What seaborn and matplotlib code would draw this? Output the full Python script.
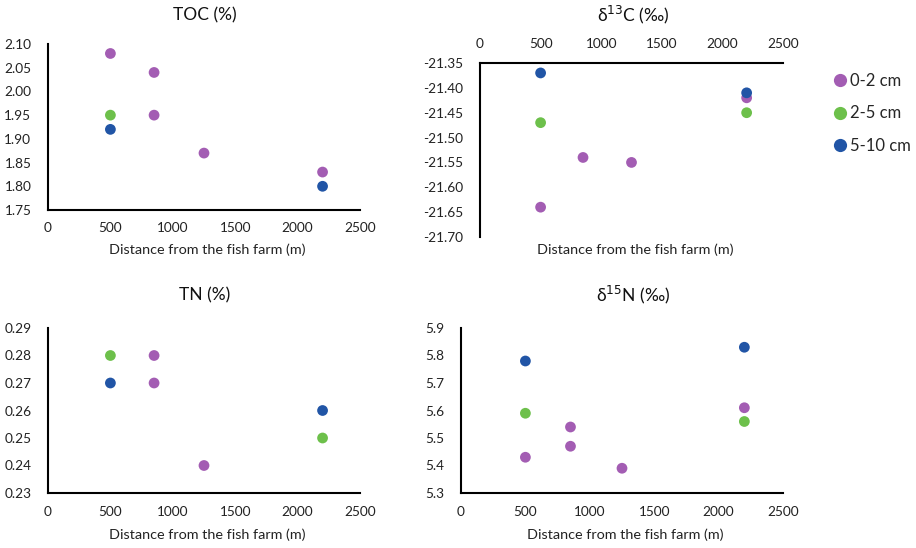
import matplotlib
matplotlib.use("Agg")
import matplotlib.pyplot as plt
import seaborn as sns
import pandas as pd
from matplotlib.lines import Line2D

sns.set_theme(style="white")
plt.rcParams['font.family'] = ['Lato', 'DejaVu Sans']

depths = ["0-2 cm", "2-5 cm", "5-10 cm"]
colors = ["#A35DB3", "#6DC04B", "#2155A6"]

# TOC (%)
toc_dist = [500, 850, 850, 1250, 2200, 500, 500, 2200]
toc_val = [2.08, 2.04, 1.95, 1.87, 1.83, 1.95, 1.92, 1.80]
toc_depth = ["0-2 cm"] * 5 + ["2-5 cm", "5-10 cm", "5-10 cm"]

# d13C
c13_dist = [500, 850, 1250, 2200, 500, 2200, 500, 2200]
c13_val = [-21.64, -21.54, -21.55, -21.42, -21.47, -21.45, -21.37, -21.41]
c13_depth = ["0-2 cm"] * 4 + ["2-5 cm"] * 2 + ["5-10 cm"] * 2

# TN (%)
tn_dist = [850, 850, 1250, 500, 2200, 500, 2200]
tn_val = [0.28, 0.27, 0.24, 0.28, 0.25, 0.27, 0.26]
tn_depth = ["0-2 cm"] * 3 + ["2-5 cm"] * 2 + ["5-10 cm"] * 2

# d15N
n15_dist = [500, 850, 850, 1250, 2200, 500, 2200, 500, 2200]
n15_val = [5.43, 5.54, 5.47, 5.39, 5.61, 5.59, 5.56, 5.78, 5.83]
n15_depth = ["0-2 cm"] * 5 + ["2-5 cm"] * 2 + ["5-10 cm"] * 2

x_ticks = [0, 500, 1000, 1500, 2000, 2500]
xlabel = "Distance from the fish farm (m)"

W, H = 916, 548
fig = plt.figure(figsize=(W / 100, H / 100), dpi=100)

def box(l, t, r, b):
    return [l / W, 1 - b / H, (r - l) / W, (b - t) / H]

palette = dict(zip(depths, colors))

panels = [
    dict(box=box(48, 44, 360, 210), d=toc_dist, v=toc_val, h=toc_depth,
         ylim=(1.75, 2.10), yt=[1.75, 1.80, 1.85, 1.90, 1.95, 2.00, 2.05, 2.10], fmt="{:.2f}",
         title="TOC (%)", tpos=(205, 15), lpos=(207, 250), top=False),
    dict(box=box(480, 63, 783, 237), d=c13_dist, v=c13_val, h=c13_depth,
         ylim=(-21.70, -21.35), yt=[-21.70, -21.65, -21.60, -21.55, -21.50, -21.45, -21.40, -21.35], fmt="{:.2f}",
         title=r"δ$^{13}$C (‰)", tpos=(633, 15), lpos=(635, 250), top=True),
    dict(box=box(48, 328, 360, 493), d=tn_dist, v=tn_val, h=tn_depth,
         ylim=(0.23, 0.29), yt=[0.23, 0.24, 0.25, 0.26, 0.27, 0.28, 0.29], fmt="{:.2f}",
         title="TN (%)", tpos=(205, 295), lpos=(207, 535), top=False),
    dict(box=box(461, 328, 783, 493), d=n15_dist, v=n15_val, h=n15_depth,
         ylim=(5.3, 5.9), yt=[5.3, 5.4, 5.5, 5.6, 5.7, 5.8, 5.9], fmt="{:.1f}",
         title=r"δ$^{15}$N (‰)", tpos=(633, 295), lpos=(625, 535), top=False),
]

for p in panels:
    ax = fig.add_axes(p["box"])
    df = pd.DataFrame({"dist": p["d"], "val": p["v"], "depth": p["h"]})
    sns.scatterplot(data=df, x="dist", y="val", hue="depth", hue_order=depths,
                    palette=palette, s=60, edgecolor="none", linewidth=0,
                    legend=False, ax=ax, clip_on=False, zorder=3)
    ax.set_xlim(0, 2500)
    ax.set_ylim(*p["ylim"])
    ax.set_xticks(x_ticks)
    ax.set_xticklabels([str(t) for t in x_ticks])
    ax.set_yticks(p["yt"])
    ax.set_yticklabels([p["fmt"].format(t) for t in p["yt"]])
    ax.set_xlabel("")
    ax.set_ylabel("")
    ax.tick_params(axis="both", length=0, labelsize=9.8, colors="#222222")
    ax.tick_params(axis="y", pad=12)
    ax.tick_params(axis="x", pad=9)
    for s in ax.spines.values():
        s.set_visible(False)
    ax.spines["left"].set_visible(True)
    ax.spines["left"].set_color("black")
    ax.spines["left"].set_linewidth(1.5)
    if p["top"]:
        ax.xaxis.tick_top()
        ax.tick_params(axis="x", pad=9)
        ax.spines["top"].set_visible(True)
        ax.spines["top"].set_color("black")
        ax.spines["top"].set_linewidth(1.5)
    else:
        ax.spines["bottom"].set_visible(True)
        ax.spines["bottom"].set_color("black")
        ax.spines["bottom"].set_linewidth(1.5)
    ax.patch.set_alpha(0)
    fig.text(p["tpos"][0] / W, 1 - p["tpos"][1] / H, p["title"], ha="center", va="center",
             fontsize=12.5, color="#111111")
    fig.text(p["lpos"][0] / W, 1 - p["lpos"][1] / H, xlabel, ha="center", va="center",
             fontsize=10.4, color="#222222")

handles = [Line2D([0], [0], marker="o", linestyle="", markersize=9.5,
                  markerfacecolor=c, markeredgecolor="none") for c in colors]
fig.legend(handles, depths, loc="upper left", bbox_to_anchor=(823 / W, 1 - 66 / H),
           frameon=False, fontsize=12, handletextpad=0.05, labelspacing=1.0,
           handlelength=1.2, borderaxespad=0)

fig.savefig("out.png", dpi=100)
